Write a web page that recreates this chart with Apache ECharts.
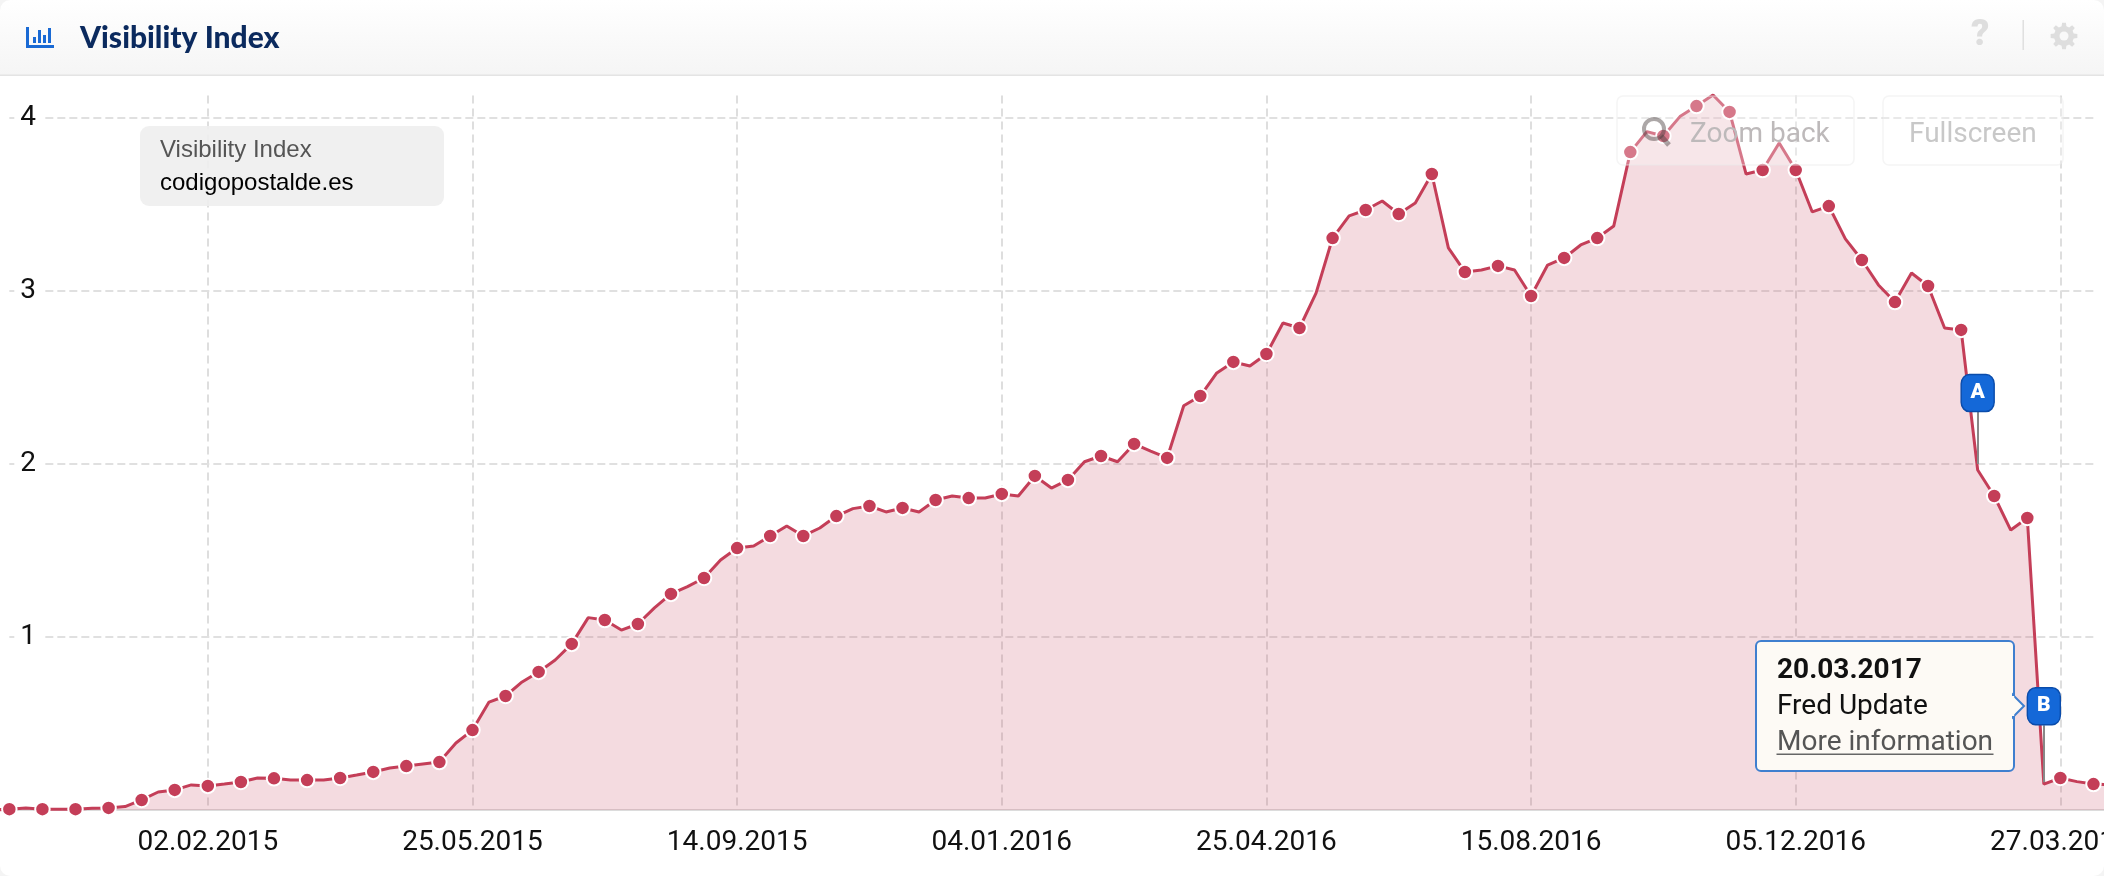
<!DOCTYPE html>
<html><head><meta charset="utf-8">
<style>html,body{margin:0;padding:0;background:#f4f4f4}#c{width:2104px;height:876px;overflow:hidden;border-radius:10px}</style>
<script src="https://cdn.jsdelivr.net/npm/echarts@6/dist/echarts.min.js"></script>
</head><body><div id="c"></div>
<script>
const startDate = '2014-11-03';
const tickLabels = ['02.02.2015','25.05.2015','14.09.2015','04.01.2016','25.04.2016','15.08.2016','05.12.2016','27.03.2017'];
const yTicks = [1,2,3,4];
const visibility = [
0.00,0.005,0.012,0.005,0.005,0.005,0.01,0.012,0.02,0.058,0.104,0.116,0.145,
0.139,0.15,0.162,0.185,0.183,0.173,0.173,0.173,0.185,0.202,0.22,0.243,0.254,0.266,0.277,0.387,
0.462,0.624,0.659,0.74,0.798,0.867,0.96,1.112,1.098,1.04,1.075,1.168,1.249,1.291,1.341,1.445,
1.514,1.526,1.584,1.642,1.584,1.63,1.699,1.742,1.757,1.723,1.746,1.723,1.792,1.815,1.803,1.803,
1.827,1.815,1.931,1.861,1.908,2.013,2.046,2.013,2.116,2.075,2.035,2.337,2.393,2.526,2.59,2.566,
2.636,2.815,2.786,2.988,3.306,3.434,3.468,3.52,3.445,3.509,3.676,3.249,3.11,3.121,3.145,3.121,
2.971,3.15,3.191,3.266,3.306,3.376,3.803,3.921,3.896,4.008,4.069,4.133,4.035,3.676,3.699,3.855,
3.699,3.457,3.491,3.301,3.179,3.035,2.936,3.104,3.029,2.786,2.775,1.965,1.815,1.618,1.688,0.15,
0.185,0.164,0.15,0.145];
const eventA = {date:'20.02.2017', flagValue:2.41, stemTop:2.30, stemBottom:2.0, letter:'A'};
const eventB = {date:'20.03.2017', flagValue:0.60, stemTop:0.49, stemBottom:0.16, letter:'B'};

const pad = n => String(n).padStart(2,'0');
const categories = visibility.map((_,i)=>{
  const d = new Date(Date.parse(startDate+'T12:00:00Z') + i*7*86400000);
  return pad(d.getUTCDate())+'.'+pad(d.getUTCMonth()+1)+'.'+d.getUTCFullYear();
});
const RED='#c43e58', UI='Roboto, sans-serif';
const chart = echarts.init(document.getElementById('c'),null,{renderer:'canvas'});
const isTick = (i,v)=>tickLabels.includes(v);
const flag = e => ({coord:[e.date,e.flagValue], name:e.letter, value:e.letter});
const stem = e => [{coord:[e.date,e.stemTop]},{coord:[e.date,e.stemBottom]}];
const t = (text,x,y,size,fill,extra={}) => ({type:'text',z:100,silent:true,x,y,style:Object.assign({text,fill,font:`${extra.weight||400} ${size}px ${extra.family||UI}`,textVerticalAlign:'middle'},extra.style||{})});
const rr = (x,y,w,h,r,fill,stroke,lw=2,z=90)=>({type:'rect',z,silent:true,shape:{x,y,width:w,height:h,r},style:{fill,stroke,lineWidth:lw}});
function gearPoints(cx,cy,ro,ri,teeth){
  const pts=[];
  for(let k=0;k<teeth;k++){
    const a=k*2*Math.PI/teeth, w=Math.PI/teeth;
    [[ri,-w*0.62],[ro,-w*0.36],[ro,w*0.36],[ri,w*0.62]].forEach(([r,o])=>pts.push([cx+r*Math.cos(a+o),cy+r*Math.sin(a+o)]));
  }
  return pts;
}
chart.setOption({
  animation:false,
  backgroundColor:'#fff',
  grid:{left:-7.2,right:-6,top:95.5,bottom:66,outerBoundsMode:'none'},
  xAxis:{type:'category',boundaryGap:false,data:categories,
    axisTick:{show:false},
    axisLine:{lineStyle:{color:'#dcdcdc',width:2}},
    axisLabel:{interval:isTick,color:'#111',fontFamily:'Roboto',fontSize:28,margin:19,hideOverlap:false},
    splitLine:{show:true,interval:isTick,lineStyle:{color:'#dedede',width:2,type:[8,5]}}},
  yAxis:{type:'value',min:0,max:4.13,interval:1,z:3,
    splitLine:{show:false},axisLine:{show:false},axisTick:{show:false},
    axisLabel:{inside:true,margin:21.5,color:'#111',fontFamily:'Roboto',fontSize:28,showMinLabel:false,showMaxLabel:false,
      backgroundColor:'#fff',padding:[0,6,0,6],verticalAlign:'middle',lineHeight:22}},
  series:[
   {name:'grid',type:'line',data:[],z:1,silent:true,
    markLine:{z:1,silent:true,symbol:'none',label:{show:false},animation:false,
      lineStyle:{color:'#e0e0e0',width:2,type:[8,4]},
      data:yTicks.map(v=>[{xAxis:categories[1],yAxis:v},{xAxis:categories[127],yAxis:v}])}},
   {name:'Visibility Index',type:'line',data:visibility,z:2,silent:true,clip:false,
    showAllSymbol:true,showSymbol:true,
    symbol:(v,p)=>p.dataIndex%2===1?'circle':'none',symbolSize:14.5,
    lineStyle:{color:RED,width:3},
    itemStyle:{color:RED,borderColor:'#fff',borderWidth:2},
    areaStyle:{color:RED,opacity:0.19}},
   {name:'events',type:'line',data:[],z:5,silent:true,
    markLine:{z:5,silent:true,symbol:'none',label:{show:false},animation:false,
      lineStyle:{color:'#888',width:2,type:'solid'},data:[stem(eventA),stem(eventB)]},
    markPoint:{z:6,silent:true,symbol:'roundRect',symbolSize:[33,37],animation:false,
      itemStyle:{color:'#1468d8',borderColor:'#0a4cab',borderWidth:1.5},
      label:{show:true,position:'inside',color:'#fff',fontFamily:'Roboto',fontWeight:900,fontSize:21,formatter:p=>p.name},
      data:[flag(eventA),flag(eventB)]}}
  ],
  graphic:[
    // header
    {type:'rect',z:80,silent:true,shape:{x:0,y:0,width:2104,height:75},style:{fill:new echarts.graphic.LinearGradient(0,0,0,1,[{offset:0,color:'#ffffff'},{offset:1,color:'#f5f5f5'}])}},
    {type:'rect',z:81,silent:true,shape:{x:0,y:74.5,width:2104,height:1.6},style:{fill:'#e4e4e4'}},
    {type:'rect',z:82,silent:true,shape:{x:26,y:27,width:3,height:21},style:{fill:'#1a6ad4'}},
    {type:'rect',z:82,silent:true,shape:{x:26,y:45,width:28,height:3},style:{fill:'#1a6ad4'}},
    {type:'rect',z:82,silent:true,shape:{x:33,y:37,width:3,height:6},style:{fill:'#1a6ad4'}},
    {type:'rect',z:82,silent:true,shape:{x:38,y:30,width:3,height:13},style:{fill:'#1a6ad4'}},
    {type:'rect',z:82,silent:true,shape:{x:43,y:35,width:3,height:8},style:{fill:'#1a6ad4'}},
    {type:'rect',z:82,silent:true,shape:{x:48,y:28,width:3,height:15},style:{fill:'#1a6ad4'}},
    t('Visibility Index',80,38,30,'#0b2a5e',{weight:900,family:'Lato'}),
    t('?',1971,36,36,'#dedede',{weight:900}),
    {type:'rect',z:82,silent:true,shape:{x:2022.5,y:20,width:1.4,height:30},style:{fill:'#dddddd'}},
    {type:'polygon',z:82,silent:true,shape:{points:gearPoints(2064,36,13.5,10,8)},style:{fill:'#dedede'}},
    {type:'circle',z:83,silent:true,shape:{cx:2064,cy:36,r:4.5},style:{fill:'#f9f9f9'}},
    // info box
    rr(140,126,304,80,9,'rgba(238,238,238,0.9)',null,0),
    t('Visibility Index',160,150,24,'#555',{family:'"Liberation Sans"'}),
    t('codigopostalde.es',160,183,24,'#000',{family:'"Liberation Sans"'}),
    // buttons
    rr(1617,96,237,69,6,'rgba(255,255,255,0.3)','rgba(235,235,235,0.5)',1.5),
    rr(1883,96,180,69,6,'rgba(255,255,255,0.3)','rgba(235,235,235,0.5)',1.5),
    {type:'circle',z:95,silent:true,shape:{cx:1654,cy:129,r:10},style:{fill:'none',stroke:'rgba(70,60,60,0.45)',lineWidth:4}},
    {type:'line',z:95,silent:true,shape:{x1:1661,y1:136,x2:1669,y2:145},style:{stroke:'rgba(70,60,60,0.45)',lineWidth:5}},
    t('Zoom back',1690,135,28,'#bdb9ba'),
    t('Fullscreen',1909,135,28,'#c8c8c8'),
    // tooltip
    {type:'polygon',z:96,silent:true,shape:{points:[[2013,695],[2024,706],[2013,717]]},style:{fill:'#fdfaf5',stroke:'#3f7fcf',lineWidth:2}},
    rr(1756,641,258,130,5,'#fdfaf5','#3f7fcf',2,95),
    {type:'rect',z:97,silent:true,shape:{x:2011,y:696,width:3.2,height:20},style:{fill:'#fdfaf5'}},
    t('20.03.2017',1777,671,28,'#111',{weight:700}),
    t('Fred Update',1777,707,28,'#111'),
    t('More information',1777,743,28,'#555'),
    {type:'rect',z:98,silent:true,shape:{x:1776.5,y:753.5,width:217,height:1.6},style:{fill:'#666'}}
  ]
});
</script></body></html>
